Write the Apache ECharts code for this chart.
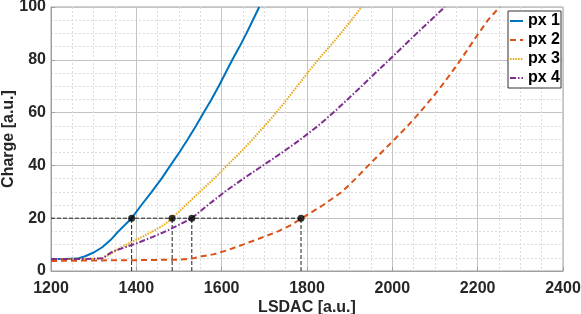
<!DOCTYPE html>
<html>
<head>
<meta charset="utf-8">
<script src="https://cdn.jsdelivr.net/npm/echarts@6/dist/echarts.min.js"></script>
<style>html,body{margin:0;padding:0;background:#fff;}#c{width:581px;height:314px;}</style>
</head>
<body>
<div id="c"></div>
<script>
const seriesNames = ['px 1', 'px 2', 'px 3', 'px 4'];
const px1 = [[1200,4.5],[1230,4.5],[1262,4.7],[1280,5.6],[1300,7],[1320,9],[1340,11.8],[1358,15],[1389,20],[1412,25],[1436,30],[1459,35],[1480,40],[1501,45],[1521,50],[1540,55],[1558,60],[1576,65],[1593,70],[1609,75],[1625,80],[1642,85],[1658,90],[1673,95],[1688,100]];
const px2 = [[1200,3.8],[1300,4.0],[1400,4.1],[1500,4.3],[1526,4.6],[1549,5.4],[1580,6.3],[1612,7.8],[1650,10],[1690,12.4],[1732,15],[1760,17.2],[1788,20],[1838,25],[1882,30],[1914,35],[1944,40],[1975,45],[2006,50],[2036,55],[2064,60],[2090,65],[2115,70],[2138,75],[2160,80],[2181,85],[2202,90],[2224,95],[2245,98.8],[2252,100]];
const px3 = [[1200,4.5],[1280,4.5],[1320,4.8],[1340,6.5],[1365,9],[1389,11],[1415,13],[1444,15.5],[1465,17.5],[1484,20],[1516,25],[1549,30],[1582,35],[1613,40],[1644,45],[1673,50],[1701,55],[1728,60],[1753,65],[1777,70],[1801,75],[1826,80],[1853,85],[1879,90],[1904,95],[1928,100]];
const px4 = [[1200,4.5],[1280,4.5],[1320,4.8],[1346,7.5],[1370,8.8],[1401,10.5],[1440,13],[1475,15.5],[1500,17.5],[1530,20],[1568,25],[1607,30],[1651,35],[1697,40],[1743,45],[1786,50],[1826,55],[1862,60],[1895,65],[1928,70],[1960,75],[1993,80],[2025,85],[2057,90],[2090,95],[2123,100]];
const threshold = 20;
const crossX = [1389, 1484, 1530, 1786];
const xTicks = [1200, 1400, 1600, 1800, 2000, 2200, 2400];
const yTicks = [0, 20, 40, 60, 80, 100];

const txt = '#262626';
const font = 'Liberation Sans, Arial, Helvetica, sans-serif';

const helperSeries = [];
helperSeries.push({
  type: 'line', data: [[xTicks[0], threshold], [crossX[crossX.length - 1], threshold]],
  symbol: 'none', silent: true, z: 1,
  lineStyle: { color: '#222', width: 1, type: [4, 2] }
});
crossX.forEach(x => {
  helperSeries.push({
    type: 'line', data: [[x, yTicks[0]], [x, threshold]],
    symbol: 'none', silent: true, z: 1,
    lineStyle: { color: '#222', width: 1, type: [4, 2] }
  });
});
helperSeries.push({
  type: 'scatter', data: crossX.map(x => [x, threshold]),
  symbolSize: 7, itemStyle: { color: '#000' }, z: 5
});

const chart = echarts.init(document.getElementById('c'), null, { renderer: 'canvas' });
chart.setOption({
  animation: false,
  backgroundColor: '#fff',
  grid: { left: 51, right: 18, top: 7, bottom: 43, containLabel: false, outerBoundsMode: 'none',
    show: true, borderColor: '#a0a0a0', borderWidth: 1, backgroundColor: 'transparent' },
  xAxis: {
    type: 'value', min: xTicks[0], max: xTicks[xTicks.length - 1], interval: 200,
    name: 'LSDAC [a.u.]', nameLocation: 'middle', nameGap: 29, nameMoveOverlap: false,
    nameTextStyle: { color: txt, fontSize: 16, fontWeight: 'bold', fontFamily: font },
    axisLine: { show: true, lineStyle: { color: '#a0a0a0' } },
    axisTick: { show: true, inside: true, length: 4, lineStyle: { color: '#a0a0a0' } },
    axisLabel: { color: txt, fontSize: 16, fontWeight: 'bold', fontFamily: font, margin: 10,
      formatter: v => String(v) },
    splitLine: { show: true, lineStyle: { color: '#c4c4c4', width: 1 } },
    minorTick: { show: false, splitNumber: 4 },
    minorSplitLine: { show: true, lineStyle: { color: '#dcdcdc', width: 1, type: [2, 2] } }
  },
  yAxis: {
    type: 'value', min: yTicks[0], max: yTicks[yTicks.length - 1], interval: 20,
    name: 'Charge [a.u.]', nameLocation: 'middle', nameGap: 34, nameRotate: 90, nameMoveOverlap: false,
    nameTextStyle: { color: txt, fontSize: 16, fontWeight: 'bold', fontFamily: font },
    axisLine: { show: true, lineStyle: { color: '#a0a0a0' } },
    axisTick: { show: true, inside: true, length: 4, lineStyle: { color: '#a0a0a0' } },
    axisLabel: { color: txt, fontSize: 16, fontWeight: 'bold', fontFamily: font, margin: 5,
      formatter: v => String(v) },
    splitLine: { show: true, lineStyle: { color: '#c4c4c4', width: 1 } },
    minorTick: { show: false, splitNumber: 4 },
    minorSplitLine: { show: true, lineStyle: { color: '#dcdcdc', width: 1, type: [2, 2] } }
  },
  legend: {
    orient: 'vertical', left: 508, top: 11,
    data: seriesNames,
    itemWidth: 13, itemHeight: 14, itemGap: 3,
    padding: [2, 1, 2, 1],
    backgroundColor: '#fff', borderColor: '#333', borderWidth: 1, borderRadius: 0,
    itemStyle: { color: 'rgba(0,0,0,0)', borderWidth: 0, opacity: 0 },
    textStyle: { color: '#000', fontSize: 16, fontWeight: 'bold', fontFamily: font }
  },
  series: [
    { name: seriesNames[0], type: 'line', data: px1, symbol: 'none', z: 3,
      lineStyle: { color: '#0072BD', width: 2, type: 'solid' }, itemStyle: { color: '#0072BD' } },
    { name: seriesNames[1], type: 'line', data: px2, symbol: 'none', z: 3,
      lineStyle: { color: '#D95319', width: 2, type: [6, 4] }, itemStyle: { color: '#D95319' } },
    { name: seriesNames[2], type: 'line', data: px3, symbol: 'none', z: 3,
      lineStyle: { color: '#E8A818', width: 2, type: [1.5, 1.2] }, itemStyle: { color: '#E8A818' } },
    { name: seriesNames[3], type: 'line', data: px4, symbol: 'none', z: 3,
      lineStyle: { color: '#7E2F8E', width: 2, type: [6, 2, 1.5, 2] }, itemStyle: { color: '#7E2F8E' } }
  ].concat(helperSeries)
});
</script>
</body>
</html>
